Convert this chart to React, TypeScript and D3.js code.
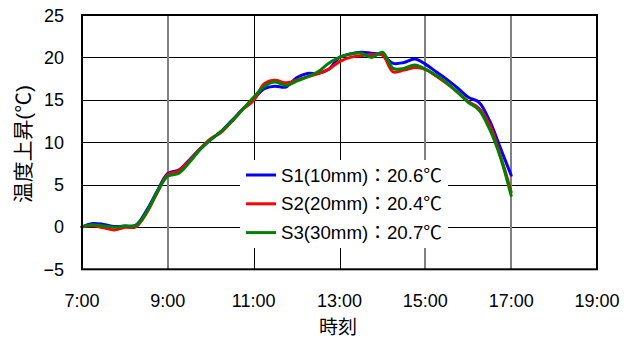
import React from "react";
import * as d3 from "d3";

const times = [
  "7:00","7:15","7:30","7:45","8:00","8:15","8:30","8:45",
  "9:00","9:15","9:30","9:45","10:00","10:15","10:30","10:45",
  "11:00","11:15","11:30","11:45","12:00","12:15","12:30","12:45",
  "13:00","13:15","13:30","13:45","14:00","14:15","14:30","14:45",
  "15:00","15:15","15:30","15:45","16:00","16:15","16:30","16:45","17:00",
];

const s1 = [
  0, 0.4, 0.3, 0.05, 0.1, 0.2, 1.9, 4.2,
  6.3, 6.7, 7.9, 9.2, 10.3, 11.3, 12.6, 13.9,
  15.1, 16.3, 16.6, 16.5, 17.6, 18.1, 18.1, 18.6,
  20.0, 20.4, 20.6, 20.5, 20.3, 19.3, 19.4, 19.8,
  19.2, 18.3, 17.4, 16.4, 15.3, 14.7, 12.5, 9.3, 6.1,
];
const s2 = [
  0, 0.15, -0.1, -0.35, -0.05, 0.0, 1.6, 4.0,
  6.2, 6.6, 7.8, 9.2, 10.4, 11.2, 12.5, 13.9,
  14.9, 16.9, 17.3, 17.0, 17.3, 17.7, 18.1, 18.6,
  19.5, 20.0, 20.2, 20.3, 20.3, 18.3, 18.5, 18.8,
  18.6, 17.8, 16.9, 15.9, 14.8, 14.0, 12.0, 8.4, 4.1,
];
const s3 = [
  0, 0.25, 0.1, -0.05, 0.1, 0.15, 1.7, 4.1,
  6.0, 6.3, 7.6, 9.1, 10.3, 11.3, 12.5, 13.9,
  15.3, 16.6, 17.1, 16.7, 17.2, 17.7, 18.3, 19.3,
  20.0, 20.4, 20.5, 20.0, 20.6, 18.7, 18.7, 19.1,
  18.6, 17.9, 17.0, 15.9, 14.7, 13.8, 11.5, 8.2, 3.7,
];

const seriesNames = ["S1(10mm)：20.6℃", "S2(20mm)：20.4℃", "S3(30mm)：20.7℃"];
const seriesColors = ["#0000FF", "#FF0000", "#008000"];
const xTickLabels = ["7:00", "9:00", "11:00", "13:00", "15:00", "17:00", "19:00"];
const yTicks = [-5, 0, 5, 10, 15, 20, 25];

const toHours = (s: string) => {
  const [h, m] = s.split(":").map(Number);
  return h + m / 60;
};

const FONT = "'Liberation Sans', Arial, 'Noto Sans CJK JP', sans-serif";

export default function App() {
  const W = 630, H = 338;
  const L = 82, R = 597, T = 15, B = 269.3;
  const x = d3.scaleLinear().domain([7, 19]).range([L, R]);
  const y = d3.scaleLinear().domain([-5, 25]).range([B, T]);
  const data = [s1, s2, s3];
  const line = d3
    .line<number>()
    .x((_, i) => x(toHours(times[i])))
    .y((d) => y(d))
    .curve(d3.curveCatmullRom.alpha(0.5));

  const crisp = (v: number) => Math.round(v) + 0.5;
  const isBlack = (lbl: string) => lbl === "11:00" || lbl === "13:00";

  return (
    <svg width={W} height={H} style={{ position: "absolute", left: 0, top: 0 }} fontFamily={FONT}>
      <rect x={0} y={0} width={W} height={H} fill="#fff" />
      {/* horizontal gridlines */}
      {yTicks.filter((v) => v > -5 && v < 25).map((v) => (
        <line key={"h" + v} x1={L} x2={R} y1={crisp(y(v))} y2={crisp(y(v))} stroke="#000" strokeWidth={1} />
      ))}
      {/* vertical gridlines */}
      {xTickLabels.slice(1, -1).map((lbl) => {
        const xv = isBlack(lbl) ? crisp(x(toHours(lbl))) : Math.round(x(toHours(lbl)));
        return (
          <line key={"v" + lbl} x1={xv} x2={xv} y1={T} y2={B}
            stroke={isBlack(lbl) ? "#000" : "#808080"} strokeWidth={isBlack(lbl) ? 1 : 2} />
        );
      })}
      {/* legend background */}
      <rect x={240} y={160} width={208} height={88} fill="#fff" />
      {/* series */}
      {data.map((d, i) => (
        <path key={"s" + i} d={line(d) || ""} fill="none" stroke={seriesColors[i]}
          strokeWidth={3} strokeLinejoin="round" strokeLinecap="round" />
      ))}
      {/* frame */}
      <rect x={L} y={T} width={R - L} height={B - T} fill="none" stroke="#000" strokeWidth={2} />
      {/* y tick labels */}
      {yTicks.map((v) => (
        <text key={"yt" + v} x={64} y={y(v) + 6.5} fontSize={18} textAnchor="end" fill="#000">
          {v < 0 ? "\u2212" + Math.abs(v) : String(v)}
        </text>
      ))}
      {/* x tick labels */}
      {xTickLabels.map((lbl) => (
        <text key={"xt" + lbl} x={x(toHours(lbl))} y={306.5} fontSize={18} textAnchor="middle" fill="#000">
          {lbl}
        </text>
      ))}
      {/* axis titles */}
      <text x={338} y={334} fontSize={19} textAnchor="middle" fill="#000">時刻</text>
      <text transform="translate(31,144) rotate(-90)" fontSize={20} textAnchor="middle" fill="#000"
        textLength={118} lengthAdjust="spacingAndGlyphs">
        温度上昇(℃)
      </text>
      {/* legend */}
      {seriesNames.map((name, i) => {
        const ly = 175 + i * 28.8;
        return (
          <g key={"lg" + i}>
            <line x1={246} x2={276} y1={ly} y2={ly} stroke={seriesColors[i]} strokeWidth={3} />
            <text x={281} y={ly + 6.5} fontSize={18} fill="#000" textLength={161} lengthAdjust="spacingAndGlyphs">
              {name}
            </text>
          </g>
        );
      })}
    </svg>
  );
}
